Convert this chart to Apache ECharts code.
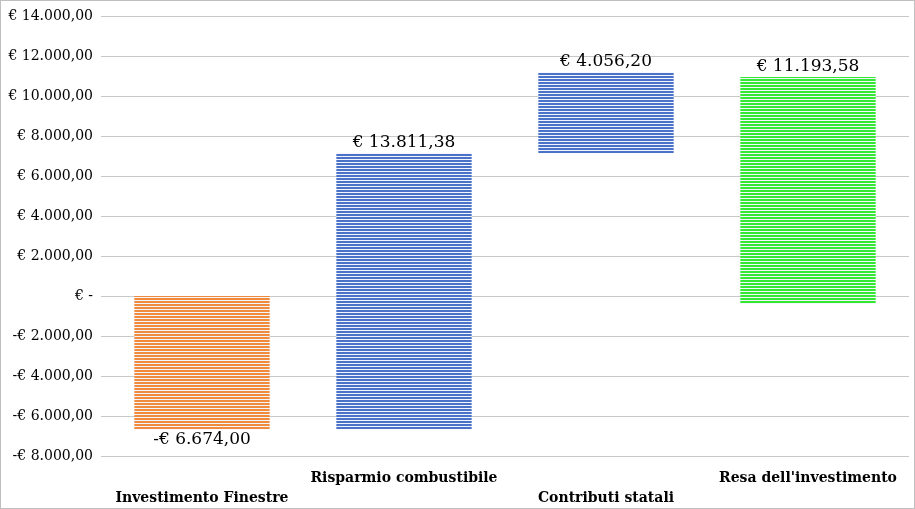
<!DOCTYPE html>
<html><head><meta charset="utf-8">
<script src="https://cdn.jsdelivr.net/npm/echarts@6/dist/echarts.min.js"></script>
<style>html,body{margin:0;padding:0;background:#fff}#c{width:913px;height:507px;border:1px solid #bfbfbf}</style>
</head><body><div id="c"></div>
<script>
var categories = ['Investimento Finestre', 'Risparmio combustibile', 'Contributi statali', "Resa dell'investimento"];
var baseValues = [0, -6674.00, 7137.38, -400];
var barValues = [-6674.00, 13811.38, 4056.20, 11350];
var labelTexts = ['-€ 6.674,00', '€ 13.811,38', '€ 4.056,20', '€ 11.193,58'];
var barColors = ['#f08a3c', '#4a72c8', '#4a72c8', '#33e833'];

function stripes(col) {
  var cv = document.createElement('canvas');
  cv.width = 4; cv.height = 3;
  var g = cv.getContext('2d');
  g.fillStyle = '#dfe6f5'; g.fillRect(0, 0, 4, 3);
  g.globalAlpha = 0.6; g.fillStyle = '#ffffff'; g.fillRect(0, 0, 4, 3);
  g.globalAlpha = 1; g.fillStyle = col; g.fillRect(0, 0, 4, 2);
  return { image: cv, repeat: 'repeat' };
}
function fmt(v) {
  if (v === 0) return '€ -';
  var s = Math.abs(v).toLocaleString('de-DE', { minimumFractionDigits: 2 });
  return (v < 0 ? '-€ ' : '€ ') + s;
}

var myChart = echarts.init(document.getElementById('c'));
var option = {
  animation: false,
  textStyle: { fontFamily: 'DejaVu Serif' },
  grid: { left: 100, right: 5, top: 15, bottom: 45 },
  xAxis: {
    type: 'category', data: categories,
    axisLine: { show: false }, axisTick: { show: false },
    axisLabel: {
      color: '#000', fontWeight: 'bold', fontSize: 14, margin: 12, interval: 0,
      formatter: function (v, i) { return i % 2 === 0 ? '\n' + v : v; },
      lineHeight: 20
    }
  },
  yAxis: {
    type: 'value', min: -8000, max: 14000, interval: 2000,
    axisLabel: { color: '#000', fontSize: 14, formatter: fmt },
    splitLine: { lineStyle: { color: '#c8c8c8' } }
  },
  series: [
    {
      type: 'bar', stack: 'w', stackStrategy: 'all', barCategoryGap: '33%',
      data: baseValues, itemStyle: { color: 'transparent' }, silent: true
    },
    {
      type: 'bar', stack: 'w', stackStrategy: 'all',
      data: barValues.map(function (v, i) {
        return {
          value: v,
          itemStyle: { color: stripes(barColors[i]) },
          label: {
            show: true, position: i === 0 ? 'bottom' : 'top', distance: 2,
            formatter: labelTexts[i], color: '#000', fontSize: 17
          }
        };
      })
    }
  ]
};
myChart.setOption(option);
</script></body></html>
